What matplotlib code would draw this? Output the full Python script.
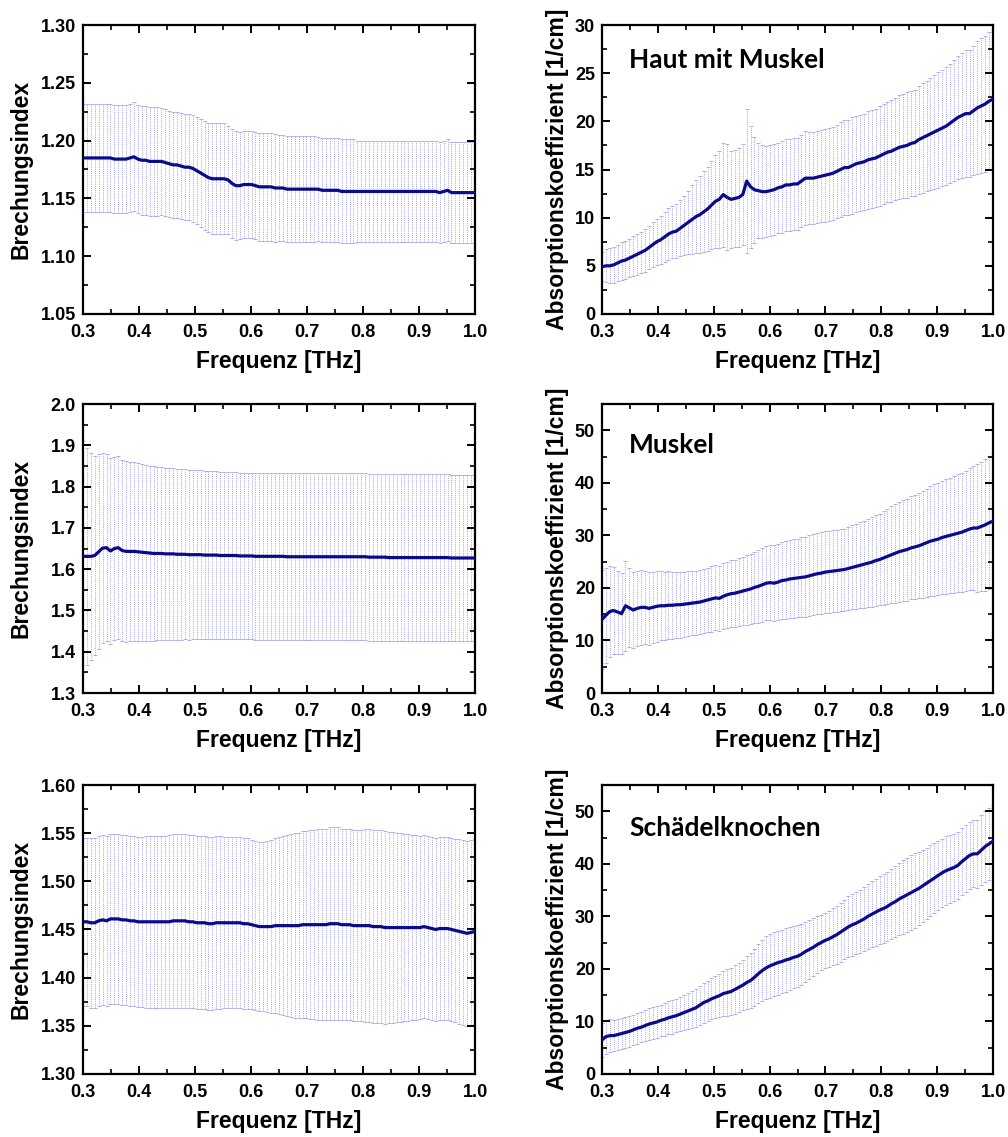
import numpy as np
import matplotlib
matplotlib.use("Agg")
import matplotlib.pyplot as plt
from matplotlib.ticker import MultipleLocator, AutoMinorLocator, FormatStrFormatter

# ---------------- data ----------------
freq = np.linspace(0.3, 1.0, 101)  # THz, sampling grid

n_haut = [1.185, 1.185, 1.185, 1.185, 1.185, 1.185, 1.185, 1.185, 1.184, 1.184,
          1.184, 1.184, 1.185, 1.186, 1.184, 1.183, 1.183, 1.182, 1.182, 1.182,
          1.182, 1.181, 1.180, 1.179, 1.179, 1.178, 1.177, 1.177, 1.176, 1.174,
          1.172, 1.170, 1.168, 1.167, 1.167, 1.167, 1.167, 1.166, 1.163, 1.161,
          1.161, 1.162, 1.162, 1.162, 1.161, 1.160, 1.160, 1.160, 1.160, 1.159,
          1.159, 1.159, 1.158, 1.158, 1.158, 1.158, 1.158, 1.158, 1.158, 1.158,
          1.158, 1.157, 1.157, 1.157, 1.157, 1.157, 1.156, 1.156, 1.156, 1.156,
          1.156, 1.156, 1.156, 1.156, 1.156, 1.156, 1.156, 1.156, 1.156, 1.156,
          1.156, 1.156, 1.156, 1.156, 1.156, 1.156, 1.156, 1.156, 1.156, 1.156,
          1.156, 1.155, 1.156, 1.157, 1.155, 1.155, 1.155, 1.155, 1.155, 1.155,
          1.155]
n_haut_err = [0.047, 0.047, 0.047, 0.047, 0.047, 0.047, 0.047, 0.047, 0.047, 0.047,
              0.047, 0.047, 0.047, 0.047, 0.047, 0.047, 0.047, 0.047, 0.047, 0.047,
              0.046, 0.046, 0.046, 0.046, 0.046, 0.046, 0.046, 0.046, 0.046, 0.046,
              0.047, 0.047, 0.047, 0.048, 0.048, 0.048, 0.048, 0.047, 0.047, 0.047,
              0.0465, 0.0465, 0.0465, 0.0465, 0.0465, 0.0465, 0.0465, 0.0465, 0.0465, 0.0465,
              0.046, 0.046, 0.046, 0.046, 0.046, 0.046, 0.046, 0.046, 0.046, 0.046,
              0.045, 0.045, 0.045, 0.045, 0.045, 0.045, 0.045, 0.045, 0.045, 0.045,
              0.044, 0.044, 0.044, 0.044, 0.044, 0.044, 0.044, 0.044, 0.044, 0.044,
              0.044, 0.044, 0.044, 0.044, 0.044, 0.044, 0.044, 0.044, 0.044, 0.044,
              0.044, 0.044, 0.044, 0.044, 0.044, 0.044, 0.044, 0.044, 0.044, 0.044,
              0.044]

a_haut = [4.9, 5.0, 5.0, 5.1, 5.3, 5.5, 5.6, 5.8, 6.0, 6.2,
          6.4, 6.6, 6.9, 7.2, 7.5, 7.7, 8.0, 8.3, 8.5, 8.6,
          8.9, 9.2, 9.5, 9.8, 10.1, 10.3, 10.6, 10.9, 11.3, 11.7,
          11.9, 12.4, 12.1, 11.9, 12.0, 12.1, 12.4, 13.8, 13.2, 12.9,
          12.8, 12.7, 12.7, 12.8, 12.9, 13.1, 13.2, 13.4, 13.4, 13.5,
          13.5, 13.8, 14.1, 14.1, 14.1, 14.2, 14.3, 14.4, 14.5, 14.6,
          14.8, 15.0, 15.2, 15.2, 15.4, 15.6, 15.7, 15.8, 16.0, 16.1,
          16.2, 16.4, 16.6, 16.8, 16.9, 17.1, 17.3, 17.4, 17.5, 17.7,
          17.8, 18.1, 18.3, 18.5, 18.7, 18.9, 19.1, 19.3, 19.5, 19.8,
          20.1, 20.4, 20.6, 20.8, 20.8, 21.1, 21.4, 21.6, 21.8, 22.1,
          22.3]
a_haut_err = [1.5, 1.7, 1.8, 1.9, 1.9, 2.0, 2.0, 2.0, 2.1, 2.1,
              2.1, 2.2, 2.2, 2.3, 2.4, 2.5, 2.6, 2.7, 2.7, 2.8,
              2.9, 3.1, 3.3, 3.6, 3.8, 4.0, 4.2, 4.4, 4.6, 4.8,
              5.0, 5.4, 5.5, 5.0, 5.0, 5.1, 5.2, 7.5, 6.3, 5.5,
              4.9, 4.8, 4.7, 4.7, 4.7, 4.7, 4.8, 4.8, 4.8, 4.8,
              4.8, 4.8, 4.9, 4.8, 4.8, 4.8, 4.8, 4.8, 4.8, 4.8,
              4.8, 4.9, 4.9, 4.9, 5.0, 5.0, 5.0, 5.0, 5.1, 5.1,
              5.1, 5.2, 5.2, 5.2, 5.3, 5.3, 5.4, 5.4, 5.5, 5.5,
              5.5, 5.6, 5.7, 5.7, 5.8, 5.9, 6.0, 6.0, 6.1, 6.2,
              6.3, 6.4, 6.5, 6.6, 6.6, 6.7, 6.9, 7.0, 7.1, 7.2,
              7.3]

n_muskel = [1.631, 1.631, 1.631, 1.633, 1.642, 1.651, 1.652, 1.644, 1.650, 1.652,
            1.645, 1.643, 1.643, 1.643, 1.642, 1.641, 1.640, 1.639, 1.638, 1.638,
            1.638, 1.637, 1.637, 1.637, 1.636, 1.636, 1.636, 1.635, 1.635, 1.635,
            1.635, 1.634, 1.634, 1.634, 1.634, 1.633, 1.633, 1.633, 1.633, 1.633,
            1.632, 1.632, 1.632, 1.632, 1.631, 1.631, 1.631, 1.631, 1.631, 1.631,
            1.631, 1.631, 1.630, 1.630, 1.630, 1.630, 1.630, 1.630, 1.630, 1.630,
            1.630, 1.630, 1.630, 1.630, 1.630, 1.630, 1.630, 1.630, 1.630, 1.630,
            1.630, 1.630, 1.630, 1.629, 1.629, 1.629, 1.629, 1.629, 1.628, 1.628,
            1.628, 1.628, 1.628, 1.628, 1.628, 1.628, 1.628, 1.628, 1.628, 1.628,
            1.628, 1.628, 1.628, 1.628, 1.627, 1.627, 1.627, 1.627, 1.627, 1.627,
            1.627]
n_muskel_err = [0.280, 0.262, 0.250, 0.242, 0.236, 0.230, 0.227, 0.225, 0.222, 0.221,
                0.220, 0.219, 0.217, 0.216, 0.215, 0.214, 0.213, 0.212, 0.211, 0.210,
                0.209, 0.209, 0.208, 0.208, 0.207, 0.207, 0.206, 0.206, 0.205, 0.205,
                0.204, 0.204, 0.203, 0.203, 0.203, 0.202, 0.202, 0.202, 0.202, 0.202,
                0.202, 0.202, 0.202, 0.202, 0.202, 0.202, 0.202, 0.202, 0.202, 0.202,
                0.202, 0.202, 0.202, 0.202, 0.202, 0.202, 0.202, 0.202, 0.202, 0.202,
                0.202, 0.202, 0.202, 0.202, 0.202, 0.202, 0.202, 0.202, 0.202, 0.202,
                0.202, 0.202, 0.202, 0.202, 0.202, 0.202, 0.202, 0.202, 0.202, 0.202,
                0.202, 0.202, 0.202, 0.202, 0.202, 0.202, 0.202, 0.202, 0.202, 0.202,
                0.202, 0.202, 0.202, 0.202, 0.202, 0.202, 0.202, 0.202, 0.202, 0.202,
                0.202]

a_muskel = [14.0, 14.8, 15.5, 15.7, 15.4, 15.1, 16.6, 16.2, 15.8, 16.1,
            16.3, 16.3, 16.1, 16.3, 16.5, 16.6, 16.6, 16.7, 16.7, 16.8,
            16.8, 16.9, 17.0, 17.1, 17.2, 17.3, 17.5, 17.7, 17.9, 18.1,
            18.0, 18.4, 18.7, 18.9, 19.0, 19.2, 19.4, 19.6, 19.8, 20.1,
            20.3, 20.6, 20.9, 21.0, 20.9, 21.1, 21.4, 21.5, 21.7, 21.8,
            21.9, 22.0, 22.1, 22.3, 22.5, 22.7, 22.8, 23.0, 23.1, 23.2,
            23.3, 23.4, 23.5, 23.7, 23.9, 24.1, 24.3, 24.5, 24.7, 24.9,
            25.2, 25.4, 25.7, 26.0, 26.3, 26.6, 26.9, 27.1, 27.3, 27.6,
            27.8, 28.0, 28.3, 28.6, 28.9, 29.1, 29.3, 29.6, 29.8, 30.0,
            30.2, 30.4, 30.6, 30.9, 31.2, 31.4, 31.4, 31.7, 32.0, 32.4,
            32.7]
a_muskel_err = [9.5, 9.0, 8.6, 8.2, 7.9, 7.7, 8.6, 7.5, 7.3, 7.2,
                7.1, 7.0, 6.9, 6.8, 6.7, 6.6, 6.5, 6.5, 6.4, 6.3,
                6.3, 6.2, 6.2, 6.1, 6.1, 6.1, 6.1, 6.1, 6.2, 6.2,
                6.2, 6.3, 6.3, 6.4, 6.4, 6.5, 6.5, 6.6, 6.7, 6.8,
                6.9, 7.0, 7.0, 7.1, 7.2, 7.2, 7.3, 7.4, 7.4, 7.5,
                7.5, 7.6, 7.6, 7.7, 7.7, 7.7, 7.8, 7.8, 7.8, 7.8,
                7.8, 7.8, 7.8, 7.9, 8.0, 8.1, 8.2, 8.3, 8.4, 8.5,
                8.6, 8.7, 8.9, 9.0, 9.2, 9.4, 9.5, 9.6, 9.7, 9.8,
                9.9, 10.0, 10.2, 10.3, 10.4, 10.6, 10.7, 10.8, 10.9, 11.0,
                11.1, 11.2, 11.3, 11.4, 11.6, 11.8, 12.1, 12.3, 12.5, 12.7,
                12.9]

n_knochen = [1.458, 1.458, 1.457, 1.457, 1.459, 1.460, 1.459, 1.461, 1.461, 1.461,
             1.460, 1.460, 1.459, 1.459, 1.458, 1.458, 1.458, 1.458, 1.458, 1.458,
             1.458, 1.458, 1.458, 1.459, 1.459, 1.459, 1.459, 1.458, 1.458, 1.457,
             1.457, 1.457, 1.456, 1.456, 1.457, 1.457, 1.457, 1.457, 1.457, 1.457,
             1.457, 1.456, 1.456, 1.455, 1.454, 1.453, 1.453, 1.453, 1.453, 1.454,
             1.454, 1.454, 1.454, 1.454, 1.454, 1.454, 1.455, 1.455, 1.455, 1.455,
             1.455, 1.455, 1.455, 1.456, 1.456, 1.456, 1.455, 1.455, 1.455, 1.454,
             1.454, 1.454, 1.454, 1.454, 1.453, 1.453, 1.453, 1.452, 1.452, 1.452,
             1.452, 1.452, 1.452, 1.452, 1.452, 1.452, 1.452, 1.453, 1.452, 1.451,
             1.450, 1.451, 1.451, 1.451, 1.450, 1.449, 1.448, 1.447, 1.446, 1.447,
             1.448]
n_knochen_err = [0.087, 0.087, 0.088, 0.088, 0.088, 0.088, 0.088, 0.088, 0.088, 0.088,
                 0.088, 0.088, 0.088, 0.088, 0.088, 0.088, 0.089, 0.089, 0.089, 0.089,
                 0.089, 0.089, 0.090, 0.090, 0.090, 0.090, 0.090, 0.090, 0.090, 0.090,
                 0.090, 0.090, 0.090, 0.090, 0.090, 0.090, 0.089, 0.089, 0.089, 0.089,
                 0.089, 0.089, 0.089, 0.088, 0.088, 0.088, 0.088, 0.089, 0.090, 0.091,
                 0.092, 0.093, 0.094, 0.095, 0.096, 0.096, 0.097, 0.097, 0.098, 0.098,
                 0.099, 0.099, 0.099, 0.100, 0.100, 0.100, 0.099, 0.099, 0.099, 0.099,
                 0.099, 0.099, 0.100, 0.100, 0.100, 0.100, 0.100, 0.100, 0.099, 0.099,
                 0.098, 0.098, 0.097, 0.097, 0.096, 0.096, 0.095, 0.095, 0.095, 0.095,
                 0.095, 0.095, 0.095, 0.095, 0.095, 0.095, 0.096, 0.096, 0.096, 0.096,
                 0.096]

a_knochen = [6.5, 7.1, 7.3, 7.3, 7.5, 7.7, 7.9, 8.1, 8.4, 8.7,
             8.9, 9.2, 9.5, 9.7, 9.9, 10.2, 10.4, 10.7, 10.9, 11.1,
             11.4, 11.7, 12.0, 12.3, 12.6, 13.1, 13.6, 13.9, 14.3, 14.6,
             14.9, 15.3, 15.5, 15.7, 16.1, 16.5, 16.9, 17.4, 17.8, 18.4,
             19.1, 19.7, 20.2, 20.6, 20.9, 21.2, 21.4, 21.7, 21.9, 22.2,
             22.4, 22.8, 23.3, 23.7, 24.1, 24.6, 25.0, 25.4, 25.7, 26.1,
             26.5, 27.0, 27.5, 28.0, 28.4, 28.7, 29.1, 29.5, 30.0, 30.4,
             30.8, 31.2, 31.5, 31.9, 32.4, 32.8, 33.3, 33.7, 34.1, 34.5,
             34.9, 35.3, 35.8, 36.3, 36.8, 37.3, 37.8, 38.3, 38.7, 39.0,
             39.3, 39.7, 40.4, 41.0, 41.6, 41.9, 41.9, 42.6, 43.3, 43.8,
             44.3]
a_knochen_err = [3.3, 3.2, 3.1, 3.0, 2.9, 2.9, 2.9, 2.9, 2.9, 2.9,
                 2.9, 2.9, 3.0, 3.0, 3.0, 3.0, 3.1, 3.1, 3.2, 3.2,
                 3.3, 3.3, 3.4, 3.5, 3.6, 3.7, 3.8, 3.8, 3.9, 4.0,
                 4.1, 4.3, 4.4, 4.5, 4.6, 4.7, 4.8, 5.0, 5.2, 5.4,
                 5.6, 5.8, 6.0, 6.1, 6.1, 6.1, 6.0, 6.0, 6.0, 5.9,
                 5.9, 5.8, 5.7, 5.6, 5.5, 5.4, 5.3, 5.3, 5.3, 5.4,
                 5.5, 5.6, 5.7, 5.8, 5.9, 5.9, 6.0, 6.1, 6.2, 6.3,
                 6.4, 6.5, 6.6, 6.6, 6.7, 6.8, 6.9, 7.0, 7.1, 7.1,
                 7.1, 7.0, 6.9, 6.8, 6.7, 6.6, 6.5, 6.5, 6.5, 6.4,
                 6.4, 6.4, 6.4, 6.4, 6.4, 6.4, 6.5, 6.6, 6.7, 6.8,
                 6.85]

tissue_labels = ["Haut mit Muskel", "Muskel", "Schädelknochen"]
xlabel_text = "Frequenz [THz]"
ylabel_n = "Brechungsindex"
ylabel_a = "Absorptionskoeffizient [1/cm]"

# ---------------- style ----------------
LINE_C = "#0a0a8a"
ERR_C = "#a3a3f2"
TICK_FONT = dict(family="Liberation Sans", weight="bold", size=13)
LABEL_FONT = dict(family="Liberation Sans", weight="bold", size=16.5)

fig = plt.figure(figsize=(10.08, 11.37), dpi=100)
W, H = 1008.0, 1137.0

def axes_px(left, top, right, bottom):
    return fig.add_axes([left / W, 1 - bottom / H, (right - left) / W, (bottom - top) / H])

rows = [(25, 314), (404, 693), (785, 1074)]
cols = [(83, 475), (602, 993)]

panels = [
    (n_haut, n_haut_err, (1.05, 1.30), 0.05, "%.2f", ylabel_n, None),
    (a_haut, a_haut_err, (0, 30), 5, "%d", ylabel_a, tissue_labels[0]),
    (n_muskel, n_muskel_err, (1.3, 2.0), 0.1, "%.1f", ylabel_n, None),
    (a_muskel, a_muskel_err, (0, 55), 10, "%d", ylabel_a, tissue_labels[1]),
    (n_knochen, n_knochen_err, (1.30, 1.60), 0.05, "%.2f", ylabel_n, None),
    (a_knochen, a_knochen_err, (0, 55), 10, "%d", ylabel_a, tissue_labels[2]),
]
text_y = [None, 0.851, None, 0.830, None, 0.824]

for k, (vals, errs, ylim, ystep, yfmt, ylab, title) in enumerate(panels):
    r, c = divmod(k, 2)
    ax = axes_px(cols[c][0], rows[r][0], cols[c][1], rows[r][1])
    eb = ax.errorbar(freq, vals, yerr=errs, fmt="none", ecolor=ERR_C,
                     elinewidth=0.7, capsize=1.6, capthick=0.6, zorder=1)
    for lc in eb[2]:
        lc.set_linestyle((0, (1.0, 1.2)))
    ax.plot(freq, vals, color=LINE_C, lw=2.3, zorder=3, solid_joinstyle="round")
    ax.set_xlim(0.3, 1.0)
    ax.set_ylim(*ylim)
    ax.xaxis.set_major_locator(MultipleLocator(0.1))
    ax.xaxis.set_minor_locator(AutoMinorLocator(2))
    ax.yaxis.set_major_locator(MultipleLocator(ystep))
    ax.yaxis.set_minor_locator(AutoMinorLocator(2))
    ax.xaxis.set_major_formatter(FormatStrFormatter("%.1f"))
    ax.yaxis.set_major_formatter(FormatStrFormatter(yfmt))
    ax.tick_params(which="both", direction="in", top=True, right=True, colors="black")
    ax.tick_params(which="major", length=6, width=1.4)
    ax.tick_params(which="minor", length=3.5, width=1.2)
    ax.tick_params(axis="x", which="major", pad=7)
    ax.tick_params(axis="y", which="major", pad=5)
    for s in ax.spines.values():
        s.set_linewidth(1.6)
    for lab in ax.get_xticklabels() + ax.get_yticklabels():
        lab.set_fontfamily(TICK_FONT["family"])
        lab.set_fontweight(TICK_FONT["weight"])
        lab.set_fontsize(TICK_FONT["size"])
    ax.set_xlabel(xlabel_text, **LABEL_FONT)
    ax.set_ylabel(ylab, **LABEL_FONT)
    ax.xaxis.set_label_coords(0.5, -0.125)
    if c == 0:
        ax.yaxis.set_label_coords(-0.128, 0.5)
    else:
        ax.yaxis.set_label_coords(-0.085, 0.5)
    if title:
        ax.text(0.069, text_y[k], title, transform=ax.transAxes,
                family="Lato", weight="bold", fontsize=19, va="baseline", ha="left")

fig.savefig("out.png", dpi=100)
